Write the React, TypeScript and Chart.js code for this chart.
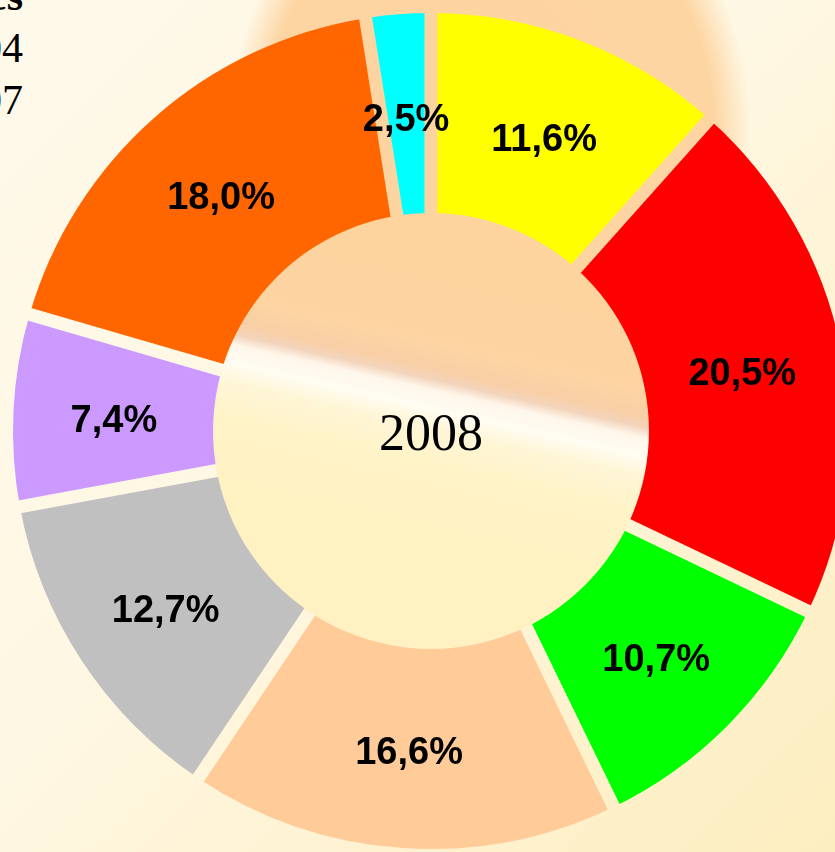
import React, { useEffect, useRef } from "react";
import { Chart, registerables } from "chart.js";

Chart.register(...registerables);

const categories = ["Categoria 1", "Categoria 2", "Categoria 3", "Categoria 4", "Categoria 5", "Categoria 6", "Categoria 7", "Categoria 8"];
const shares = [11.6, 20.5, 10.7, 16.6, 12.7, 7.4, 18.0, 2.5];
const sliceColors = ["#ffff00", "#ff0000", "#00ff00", "#ffcc99", "#c0c0c0", "#cc99ff", "#ff6600", "#00ffff"];
const centerTitle = "2008";
const sideTexts = ["Totales", "2004", "2007"];

const CX = 431;
const CY = 431;
const SIZE = 900;

const gapPlugin = {
  id: "gapAndHole",
  afterDatasetsDraw(chart: any) {
    const ctx = chart.ctx;
    const meta = chart.getDatasetMeta(0);
    if (!meta || !meta.data.length) return;
    const first = meta.data[0].getProps(["x", "y", "innerRadius", "outerRadius"], true);
    const { x, y, innerRadius, outerRadius } = first;
    // erase gaps between slices
    ctx.save();
    ctx.globalCompositeOperation = "destination-out";
    ctx.lineWidth = 13;
    ctx.strokeStyle = "#000";
    meta.data.forEach((arc: any) => {
      const p = arc.getProps(["startAngle"], true);
      ctx.beginPath();
      ctx.moveTo(x, y);
      ctx.lineTo(x + Math.cos(p.startAngle) * (outerRadius + 20), y + Math.sin(p.startAngle) * (outerRadius + 20));
      ctx.stroke();
    });
    ctx.restore();
    // textured hole
    ctx.save();
    const ang = (12.8 * Math.PI) / 180;
    const nx = -Math.sin(ang);
    const ny = Math.cos(ang);
    const sx = x;
    const sy = y - 36;
    const g = ctx.createLinearGradient(sx - nx * 130, sy - ny * 130, sx + nx * 130, sy + ny * 130);
    g.addColorStop(0, "#fdd39e");
    g.addColorStop(0.3, "#fdd4a2");
    g.addColorStop(0.4, "#f8cfa6");
    g.addColorStop(0.44, "#f3d4bc");
    g.addColorStop(0.48, "#fff6ea");
    g.addColorStop(0.55, "#fffcf2");
    g.addColorStop(0.62, "#fff6d8");
    g.addColorStop(0.75, "#fff3c8");
    g.addColorStop(1, "#fff1c2");
    ctx.fillStyle = g;
    ctx.beginPath();
    ctx.arc(x, y, innerRadius + 1, 0, Math.PI * 2);
    ctx.fill();
    ctx.restore();
    // slice labels
    ctx.save();
    ctx.fillStyle = "#000";
    ctx.font = "bold 38px 'Liberation Sans', Arial, sans-serif";
    ctx.textAlign = "center";
    ctx.textBaseline = "middle";
    const values = chart.data.datasets[0].data as number[];
    meta.data.forEach((arc: any, i: number) => {
      const pt = arc.getCenterPoint();
      const txt = values[i].toFixed(1).replace(".", ",") + "%";
      ctx.fillText(txt, pt.x, pt.y + 6);
    });
    // center title
    ctx.font = "52px 'Liberation Serif', 'Times New Roman', serif";
    ctx.fillText(centerTitle, x, y + 5);
    ctx.restore();
  },
};

export default function App() {
  const canvasRef = useRef<HTMLCanvasElement | null>(null);

  useEffect(() => {
    document.body.style.margin = "0";
    const canvas = canvasRef.current;
    if (!canvas) return;
    const chart = new Chart(canvas, {
      type: "doughnut",
      data: {
        labels: categories,
        datasets: [
          {
            data: shares,
            backgroundColor: sliceColors,
            borderWidth: 0,
          },
        ],
      },
      options: {
        responsive: false,
        maintainAspectRatio: false,
        animation: false,
        radius: 418,
        cutout: "51.9%",
        rotation: 0,
        layout: { padding: 0 },
        plugins: {
          legend: { display: false },
          tooltip: { enabled: false },
          title: { display: false },
        },
      } as any,
      plugins: [gapPlugin],
    });
    return () => chart.destroy();
  }, []);

  return (
    <div
      style={{
        position: "fixed",
        left: 0,
        top: 0,
        width: 835,
        height: 852,
        overflow: "hidden",
        background:
          "radial-gradient(ellipse 260px 300px at 490px 130px, rgba(253,212,160,1) 0%, rgba(253,213,162,1) 86%, rgba(253,225,190,0) 100%), linear-gradient(135deg, #fff9ea 0%, #fef7e3 45%, #fef2cf 75%, #fdeec0 100%)",
      }}
    >
      {sideTexts.map((t, i) => (
        <div
          key={i}
          style={{
            position: "absolute",
            right: 835 - 23,
            top: -30 + i * 52,
            fontFamily: "'Liberation Serif', 'Times New Roman', serif",
            fontSize: 42,
            lineHeight: "52px",
            whiteSpace: "nowrap",
            fontWeight: i === 0 ? "bold" : "normal",
            color: "#000",
          }}
        >
          {t}
        </div>
      ))}
      <canvas
        ref={canvasRef}
        width={SIZE}
        height={SIZE}
        style={{ position: "absolute", left: CX - SIZE / 2, top: CY - SIZE / 2 }}
      />
    </div>
  );
}
